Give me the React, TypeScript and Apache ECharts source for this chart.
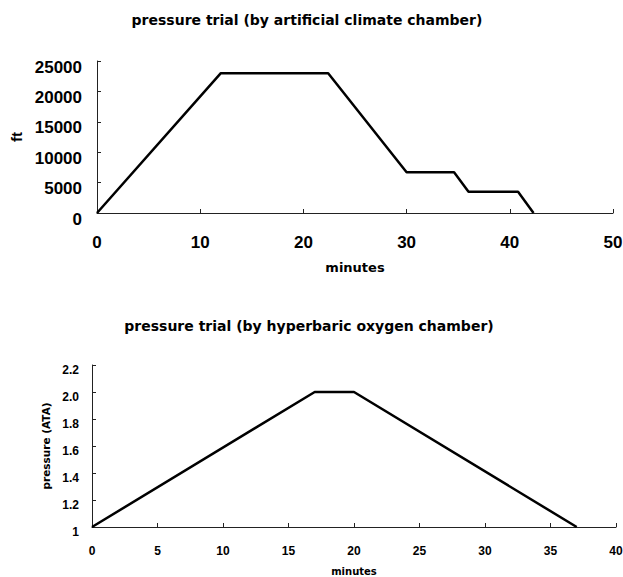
import React, { useEffect, useRef } from "react";
import * as echarts from "echarts";

const topTitle = "pressure trial (by artificial climate chamber)";
const bottomTitle = "pressure trial (by hyperbaric oxygen chamber)";
const topMinutes = [0, 12, 22.4, 30, 34.6, 36, 40.8, 42.3];
const topFeet = [0, 23000, 23000, 6700, 6700, 3500, 3500, 0];
const bottomMinutes = [0, 17, 20, 37];
const bottomAta = [1, 2, 2, 1];

const FONT = "'Liberation Sans', Arial, sans-serif";
const WIDE = "'DejaVu Sans', sans-serif";

export default function App() {
  const ref = useRef<HTMLDivElement>(null);
  useEffect(() => {
    if (!ref.current) return;
    const chart = echarts.init(ref.current, undefined, { renderer: "svg" });
    const axisLine = { show: true, lineStyle: { color: "#222", width: 1 } };
    const axisTick = { show: true, inside: true, length: 4, lineStyle: { color: "#222" } };
    chart.setOption({
      animation: false,
      backgroundColor: "#fff",
      textStyle: { fontFamily: FONT },
      graphic: [
        {
          type: "text",
          x: 307,
          y: 20,
          style: {
            text: topTitle,
            font: `bold 14px ${WIDE}`,
            fill: "#000",
            align: "center",
            verticalAlign: "middle",
          },
        },
        {
          type: "text",
          x: 309,
          y: 326,
          style: {
            text: bottomTitle,
            font: `bold 14px ${WIDE}`,
            fill: "#000",
            align: "center",
            verticalAlign: "middle",
          },
        },
      ],
      grid: [
        { left: 97, width: 516, top: 61, height: 152, outerBoundsMode: "none", containLabel: false },
        { left: 92, width: 524, top: 365, height: 162, outerBoundsMode: "none", containLabel: false },
      ],
      xAxis: [
        {
          type: "value",
          gridIndex: 0,
          min: 0,
          max: 50,
          interval: 10,
          axisLine,
          axisTick,
          splitLine: { show: false },
          axisLabel: { margin: 21, fontSize: 17, fontWeight: "bold", color: "#000", fontFamily: FONT },
          name: "minutes",
          nameLocation: "middle",
          nameGap: 48,
          nameTextStyle: { fontSize: 13, fontWeight: "bold", color: "#000", fontFamily: WIDE },
        },
        {
          type: "value",
          gridIndex: 1,
          min: 0,
          max: 40,
          interval: 5,
          axisLine,
          axisTick,
          splitLine: { show: false },
          axisLabel: { margin: 18, fontSize: 12, fontWeight: "bold", color: "#000", fontFamily: FONT },
          name: "minutes",
          nameLocation: "middle",
          nameGap: 39,
          nameTextStyle: { fontSize: 10, fontWeight: "bold", color: "#000", fontFamily: WIDE },
        },
      ],
      yAxis: [
        {
          type: "value",
          gridIndex: 0,
          min: 0,
          max: 25000,
          interval: 5000,
          axisLine,
          axisTick,
          splitLine: { show: false },
          axisLabel: {
            margin: 15,
            fontSize: 17,
            fontWeight: "bold",
            color: "#000",
            fontFamily: FONT,
            verticalAlign: "top",
            lineHeight: 12,
            formatter: (v: number) => String(v),
          },
          name: "ft",
          nameLocation: "middle",
          nameGap: 67,
          nameRotate: 90,
          nameTextStyle: { fontSize: 15, fontWeight: "bold", color: "#000", fontFamily: FONT },
        },
        {
          type: "value",
          gridIndex: 1,
          min: 1,
          max: 2.2,
          interval: 0.2,
          axisLine,
          axisTick,
          splitLine: { show: false },
          axisLabel: {
            margin: 13,
            fontSize: 12,
            fontWeight: "bold",
            color: "#000",
            fontFamily: FONT,
            verticalAlign: "top",
            lineHeight: 10,
            formatter: (v: number) => (Math.abs(v - 1) < 1e-9 ? "1" : v.toFixed(1)),
          },
          name: "pressure (ATA)",
          nameLocation: "middle",
          nameGap: 39,
          nameRotate: 90,
          nameTextStyle: { fontSize: 10.5, fontWeight: "bold", color: "#000", fontFamily: WIDE },
        },
      ],
      series: [
        {
          type: "line",
          xAxisIndex: 0,
          yAxisIndex: 0,
          data: topMinutes.map((m, i) => [m, topFeet[i]]),
          showSymbol: false,
          symbol: "none",
          clip: false,
          lineStyle: { color: "#000", width: 2.5 },
        },
        {
          type: "line",
          xAxisIndex: 1,
          yAxisIndex: 1,
          data: bottomMinutes.map((m, i) => [m, bottomAta[i]]),
          showSymbol: false,
          symbol: "none",
          clip: false,
          lineStyle: { color: "#000", width: 2.5 },
        },
      ],
    });
    return () => chart.dispose();
  }, []);
  return (
    <div
      ref={ref}
      style={{ position: "fixed", left: 0, top: 0, width: 623, height: 577, background: "#fff" }}
    />
  );
}
